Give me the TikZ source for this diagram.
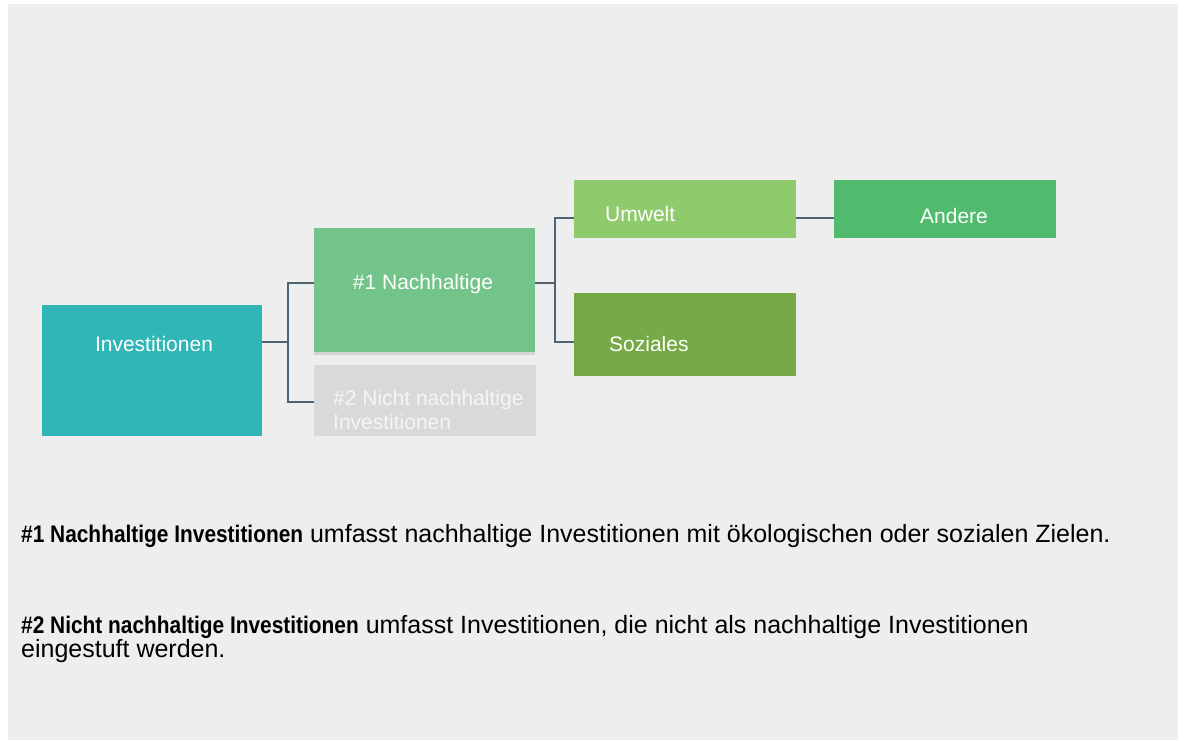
\documentclass[tikz,border=0pt]{standalone}
\usepackage{fontspec}
\setmainfont{Liberation Sans}
\newfontfamily\notebf{Liberation Sans}[FakeStretch=0.87]
\usepackage{xcolor}
\definecolor{panel}{HTML}{EEEEEE}
\definecolor{invc}{HTML}{31B6B7}
\definecolor{nachc}{HTML}{72C48A}
\definecolor{nichtc}{HTML}{D9D9D9}
\definecolor{umwc}{HTML}{8FCA6C}
\definecolor{sozc}{HTML}{76AA47}
\definecolor{andc}{HTML}{50BB6C}
\definecolor{linec}{HTML}{4F6473}
\newcommand{\notehead}[1]{{\notebf\bfseries\fontsize{24}{24}\selectfont #1}}

\begin{document}
\begin{tikzpicture}[x=1pt,y=1pt,
  box/.style={rectangle,inner sep=0pt,anchor=north west},
  lbl/.style={inner sep=0pt,text=white,font=\fontsize{21}{24}\selectfont},
  conn/.style={draw=linec,line width=2pt},
  txt/.style={inner sep=0pt,anchor=base west,align=left,font=\fontsize{25}{24}\selectfont}]
\useasboundingbox (0,0) rectangle (1184,740);
\fill[panel] (8,0) rectangle (1178,736);
% boxes
\node[box,fill=invc,minimum width=220pt,minimum height=131pt] (inv) at (42,435) {};
\node[box,fill=nachc,minimum width=221pt,minimum height=124pt] (nach) at (314,512) {};
\fill[nichtc!90!black!60!panel] (nach.south west) rectangle ([yshift=-3pt]nach.south east);
\node[box,fill=nichtc,minimum width=222pt,minimum height=71pt] (nicht) at (314,375) {};
\node[box,fill=umwc,minimum width=222pt,minimum height=58pt] (umw) at (574,560) {};
\node[box,fill=sozc,minimum width=222pt,minimum height=83pt] (soz) at (574,447) {};
\node[box,fill=andc,minimum width=222pt,minimum height=58pt] (and) at (834,560) {};
% labels
\node[lbl,anchor=base] (invt) at (154,388) {Investitionen};
\node[lbl,anchor=base] (nacht) at (423,450) {\#1 Nachhaltige};
\node[lbl,anchor=base west,align=left,text=white!96!black] (nichtt) at (333,310) {\#2 Nicht nachhaltige\\Investitionen};
\node[lbl,anchor=base west] (umwt) at (605,518) {Umwelt};
\node[lbl,anchor=base west] (sozt) at (609,388) {Soziales};
\node[lbl,anchor=base] (andt) at (954,516) {Andere};
% connectors
\coordinate (j1) at (288,398);
\coordinate (j2) at (555,457);
\draw[conn] (inv.east |- j1) -- (j1);
\draw[conn] (314,457) -| (j1) |- (314,338);
\draw[conn] (nach.east |- j2) -- (j2);
\draw[conn] (574,522) -| (j2) |- (574,398);
\draw[conn] (umw.east |- 0,522) -- (and.west |- 0,522);
% notes
\node[txt] (note1) at (21,198) {\notehead{\#1 Nachhaltige Investitionen} umfasst nachhaltige Investitionen mit ökologischen oder sozialen Zielen.};
\node[txt] (note2) at (21,83) {\notehead{\#2 Nicht nachhaltige Investitionen} umfasst Investitionen, die nicht als nachhaltige Investitionen\\eingestuft werden.};
\end{tikzpicture}
\end{document}
